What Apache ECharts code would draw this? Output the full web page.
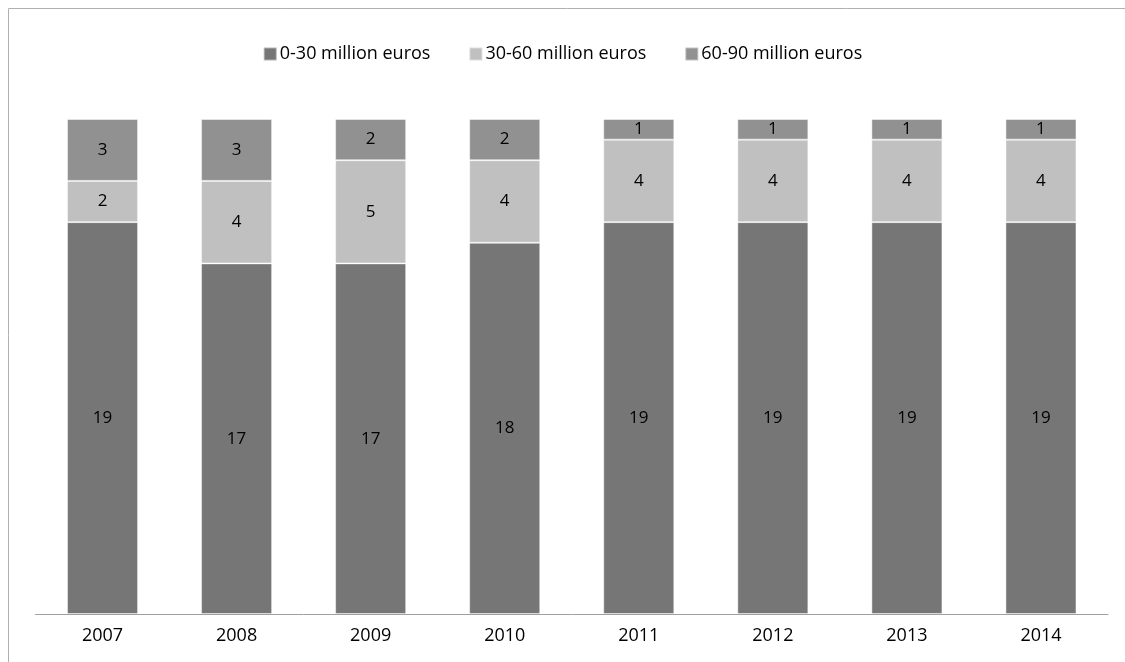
<!DOCTYPE html>
<html><head><meta charset="utf-8">
<script src="https://cdn.jsdelivr.net/npm/echarts@6/dist/echarts.min.js"></script>
<style>html,body{margin:0;padding:0;background:#fff}#c{width:1125px;height:662px}</style>
</head><body><div id="c"></div>
<script>
const categories = ['2007','2008','2009','2010','2011','2012','2013','2014'];
const low = [19,17,17,18,19,19,19,19];
const mid = [2,4,5,4,4,4,4,4];
const high = [3,3,2,2,1,1,1,1];
const names = ['0-30 million euros','30-60 million euros','60-90 million euros'];
const colors = ['#767676','#c0c0c0','#919191'];
const font = 'Open Sans';
const chart = echarts.init(document.getElementById('c'));
function ser(name, data, color){
  return {name, type:'bar', stack:'t', data, barWidth:'53%',
    itemStyle:{color, borderColor:'rgba(255,255,255,0.45)', borderWidth:1},
    label:{show:true, position:'inside', color:'#000', fontFamily:font, fontSize:17},
    emphasis:{disabled:true}};
}
chart.setOption({
  animation:false,
  color: colors,
  graphic:[{type:'rect', shape:{x:8.5,y:8.5,width:1200,height:800}, style:{fill:null, stroke:'#b0b0b0', lineWidth:1}, silent:true}],
  legend:{top:40, left:'center', itemWidth:13, itemHeight:13, itemGap:38,
    textStyle:{fontFamily:font, fontSize:18, color:'#000', padding:[0,0,0,-2]}, icon:'rect', data:names},
  grid:{left:35.5, right:17, top:119, bottom:48, containLabel:false},
  xAxis:{type:'category', data:categories,
    axisLine:{lineStyle:{color:'#a0a0a0', width:1}}, axisTick:{show:false},
    axisLabel:{fontFamily:font, fontSize:18, color:'#000', margin:13}},
  yAxis:{type:'value', min:0, max:24, show:false, splitLine:{show:false}},
  series:[ser(names[0],low,colors[0]), ser(names[1],mid,colors[1]), ser(names[2],high,colors[2])]
});
</script></body></html>
